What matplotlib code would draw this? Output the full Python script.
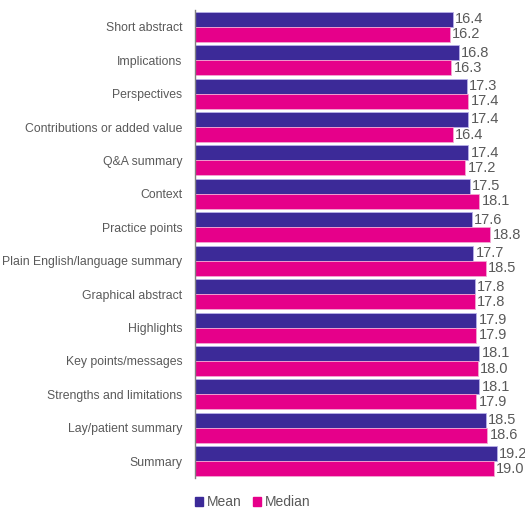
import numpy as np
import matplotlib.pyplot as plt
from matplotlib.patches import Patch

categories = ["Short abstract", "Implications", "Perspectives", "Contributions or added value",
              "Q&A summary", "Context", "Practice points", "Plain English/language summary",
              "Graphical abstract", "Highlights", "Key points/messages", "Strengths and limitations",
              "Lay/patient summary", "Summary"]
mean_vals = [16.4, 16.8, 17.3, 17.4, 17.4, 17.5, 17.6, 17.7, 17.8, 17.9, 18.1, 18.1, 18.5, 19.2]
median_vals = [16.2, 16.3, 17.4, 16.4, 17.2, 18.1, 18.8, 18.5, 17.8, 17.9, 18.0, 17.9, 18.6, 19.0]

c_mean = "#3c2a98"
c_median = "#e6008a"
grey = "#595959"

fig = plt.figure(figsize=(5.25, 5.08), dpi=100)
ax = fig.add_axes([195 / 525, 1 - 478 / 508, 1 - 195 / 525, 468 / 508])

y = np.arange(len(categories))
h = 0.45
b1 = ax.barh(y - h / 2, mean_vals, height=h, color=c_mean, edgecolor="#b8b0e8", linewidth=0.6)
b2 = ax.barh(y + h / 2, median_vals, height=h, color=c_median, edgecolor="#f4a6d2", linewidth=0.6)

for bars, vals in ((b1, mean_vals), (b2, median_vals)):
    for bar, v in zip(bars, vals):
        ax.text(v + 0.15, bar.get_y() + bar.get_height() / 2, f"{v:.1f}",
                va="center", ha="left", fontsize=10.5, color=grey,
                family="Liberation Sans", clip_on=False)

ax.set_xlim(0, 21)
ax.set_ylim(13.5, -0.5)
ax.set_yticks(y)
ax.set_yticklabels(categories, fontsize=8.8, color=grey, family="Liberation Sans")
ax.tick_params(axis="y", length=0, pad=9)
ax.set_xticks([])
for s in ["top", "right", "bottom"]:
    ax.spines[s].set_visible(False)
ax.spines["left"].set_color("#808080")
ax.spines["left"].set_linewidth(1.0)

handles = [Patch(color=c_mean, label="Mean"), Patch(color=c_median, label="Median")]
fig.legend(handles=handles, loc="center left", bbox_to_anchor=(182 / 525, 1 - 502 / 508), ncol=2,
           frameon=False, handlelength=0.6, handleheight=0.6, handletextpad=0.3,
           columnspacing=0.8, prop={"family": "Liberation Sans", "size": 10},
           labelcolor=grey)

fig.savefig("out.png", dpi=100)
